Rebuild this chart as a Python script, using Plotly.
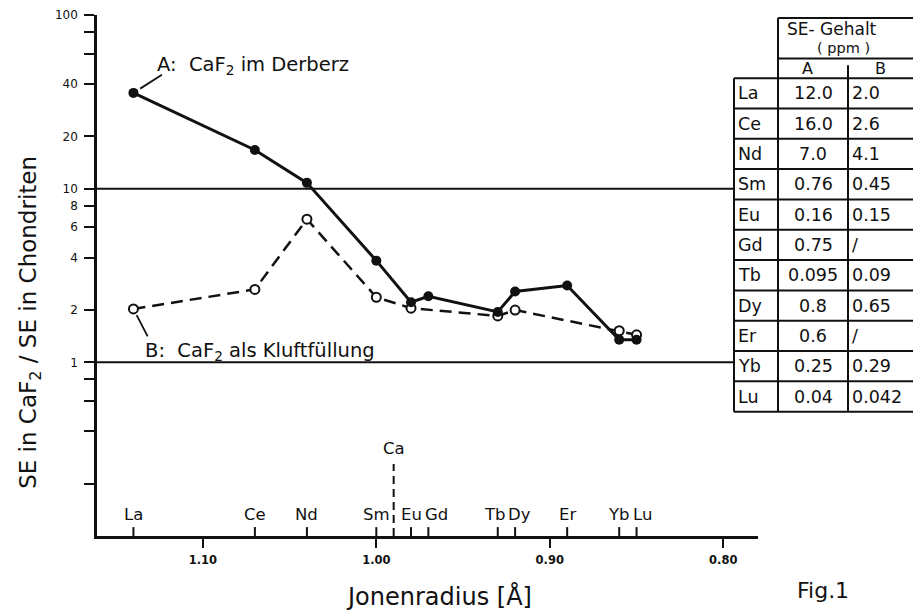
import math
import plotly.graph_objects as go

# ---------------- data ----------------
elements = ["La", "Ce", "Nd", "Sm", "Eu", "Gd", "Tb", "Dy", "Er", "Yb", "Lu"]
ion_radius = [1.14, 1.07, 1.04, 1.00, 0.98, 0.97, 0.93, 0.92, 0.89, 0.86, 0.85]
norm_A = [35.6, 16.7, 10.8, 3.85, 2.22, 2.40, 1.95, 2.56, 2.77, 1.35, 1.35]
norm_B = [2.03, 2.63, 6.67, 2.37, 2.05, None, 1.85, 2.00, None, 1.52, 1.44]
ppm_A = ["12.0", "16.0", "7.0", "0.76", "0.16", "0.75", "0.095", "0.8", "0.6", "0.25", "0.04"]
ppm_B = ["2.0", "2.6", "4.1", "0.45", "0.15", "/", "0.09", "0.65", "/", "0.29", "0.042"]
ca_label = "Ca"
ca_radius = 0.99
x_tickvals = [1.10, 1.00, 0.90, 0.80]
x_ticktext = ["1.10", "1.00", "0.90", "0.80"]
y_tickvals = [0.2, 0.4, 0.6, 0.8, 1, 2, 4, 6, 8, 10, 20, 40, 60, 80, 100]
y_ticktext = ["", "", "", "", "1", "2", "4", "6", "8", "10", "20", "40", "", "", "100"]
ref_levels = [1, 10]

# ---------------- styling ----------------
INK = "#111111"
FONT = "DejaVu Sans"
W, H = 913, 610
ML, MR, MT, MB = 97, 155, 8, 74
PW, PH = W - ML - MR, H - MT - MB


def px(x):
    return (x - ML) / PW


def py(y):
    return (H - MB - y) / PH


label_xshift = {"Gd": 8, "Tb": -3, "Dy": 4, "Lu": 6}

fig = go.Figure()

fig.add_trace(go.Scatter(
    x=ion_radius, y=norm_B, mode="lines+markers", connectgaps=True,
    line=dict(color=INK, width=2.5, dash="12px,7px"),
    marker=dict(symbol="circle", size=9, color="white", line=dict(color=INK, width=2)),
    showlegend=False, hoverinfo="skip"))
fig.add_trace(go.Scatter(
    x=ion_radius, y=norm_A, mode="lines+markers",
    line=dict(color=INK, width=3),
    marker=dict(symbol="circle", size=10, color=INK),
    showlegend=False, hoverinfo="skip"))

shapes = []
# reference lines at 1 and 10 (stop at table)
for lv in ref_levels:
    shapes.append(dict(type="line", xref="paper", yref="y", x0=0, x1=px(734),
                       y0=lv, y1=lv, line=dict(color=INK, width=2)))
# element ticks above axis
for r in ion_radius:
    shapes.append(dict(type="line", xref="x", yref="paper", x0=r, x1=r,
                       y0=0, y1=9 / PH, line=dict(color=INK, width=2)))
# Ca dashed marker
shapes.append(dict(type="line", xref="x", yref="paper", x0=ca_radius, x1=ca_radius,
                   y0=0, y1=py(463), line=dict(color=INK, width=2, dash="8px,5px")))

# ---------------- table ----------------
tl, tc1, tc2, tr = 734, 778, 848, 913
t_top, t_hdr, t_ab = 11, 52, 72
row_h = (410 - t_ab) / len(elements)
row_y = [t_ab + i * row_h for i in range(len(elements) + 1)]
TL = dict(color=INK, width=2)


def hline(x0, x1, y):
    shapes.append(dict(type="line", xref="paper", yref="paper", x0=px(x0), x1=px(x1),
                       y0=py(y), y1=py(y), line=TL))


def vline(x, y0, y1):
    shapes.append(dict(type="line", xref="paper", yref="paper", x0=px(x), x1=px(x),
                       y0=py(y0), y1=py(y1), line=TL))


hline(tc1, tr, t_top)
hline(tc1, tr, t_hdr)
for yy in row_y:
    hline(tl, tr, yy)
vline(tc1, t_top, row_y[-1])
vline(tl, t_ab, row_y[-1])
vline(tc2, t_ab, row_y[-1])
vline(tc2, 59, t_ab)

annotations = []


def txt(x, y, s, size=17.5, xanchor="center", **kw):
    annotations.append(dict(xref="paper", yref="paper", x=px(x), y=py(y), text=s,
                            showarrow=False, xanchor=xanchor, yanchor="middle",
                            borderpad=0,
                            font=dict(family=FONT, size=size, color=INK), **kw))


txt(832, 22, "SE- Gehalt", size=17)
txt(843, 41, "( ppm )", size=14.5)
txt(807, 62, "A", size=16)
txt(880, 62, "B", size=16)
for i, el in enumerate(elements):
    yc = (row_y[i] + row_y[i + 1]) / 2
    txt(737, yc, el, xanchor="left")
    txt(813, yc, ppm_A[i])
    txt(851, yc, ppm_B[i], xanchor="left")

# axis titles and figure label
annotations.append(dict(xref="paper", yref="paper", x=px(30), y=py(320),
                        text="SE in CaF<sub>2</sub> / SE in Chondriten", textangle=-90,
                        showarrow=False, xanchor="center", yanchor="middle",
                        font=dict(family=FONT, size=23, color=INK)))
txt(439, 597, "Jonenradius [Å]", size=24)
txt(823, 591, "Fig.1", size=22)

# element labels above axis
for r, el in zip(ion_radius, elements):
    annotations.append(dict(xref="x", yref="paper", x=r, y=0, text=el, showarrow=False,
                            xanchor="center", yanchor="bottom", yshift=10,
                            xshift=label_xshift.get(el, 0),
                            font=dict(family=FONT, size=16.5, color=INK)))
annotations.append(dict(xref="x", yref="paper", x=ca_radius, y=py(447), text=ca_label,
                        showarrow=False, xanchor="center", yanchor="middle",
                        font=dict(family=FONT, size=16.5, color=INK)))

# series labels with leader lines
la_r = ion_radius[0]
yA = math.log10(norm_A[0])
yB = math.log10(norm_B[0])
annotations.append(dict(xref="x", yref="y", x=la_r, y=yA, text="", showarrow=True,
                        arrowhead=0, arrowwidth=1.8, arrowcolor=INK, ax=30, ay=-19,
                        standoff=8))
annotations.append(dict(xref="x", yref="y", x=la_r, y=yA,
                        text="A:  CaF<sub>2</sub> im Derberz", showarrow=False,
                        xanchor="left", yanchor="middle", xshift=22, yshift=27,
                        font=dict(family=FONT, size=19.5, color=INK)))
annotations.append(dict(xref="x", yref="y", x=la_r, y=yB, text="", showarrow=True,
                        arrowhead=0, arrowwidth=1.8, arrowcolor=INK, ax=15, ay=29,
                        standoff=7))
annotations.append(dict(xref="x", yref="y", x=la_r, y=yB,
                        text="B:  CaF<sub>2</sub> als Kluftfüllung", showarrow=False,
                        xanchor="left", yanchor="middle", xshift=10, yshift=-43,
                        font=dict(family=FONT, size=19.5, color=INK)))

fig.update_layout(
    width=W, height=H, autosize=False,
    margin=dict(l=ML, r=MR, t=MT, b=MB, pad=0),
    paper_bgcolor="white", plot_bgcolor="white",
    font=dict(family=FONT, color=INK),
    shapes=shapes, annotations=annotations, showlegend=False,
    xaxis=dict(range=[1.161, 0.780], showgrid=False, zeroline=False,
               showline=True, linecolor=INK, linewidth=2.5,
               ticks="outside", ticklen=9, tickwidth=2, tickcolor=INK,
               tickvals=x_tickvals, ticktext=x_ticktext, ticklabelstandoff=2,
               tickfont=dict(family=FONT, size=11.5, color=INK, weight="bold")),
    yaxis=dict(type="log", range=[-1, 2], showgrid=False, zeroline=False,
               showline=True, linecolor=INK, linewidth=2.5,
               ticks="outside", ticklen=10, tickwidth=2, tickcolor=INK,
               tickvals=y_tickvals, ticktext=y_ticktext, ticklabelstandoff=4,
               tickfont=dict(family=FONT, size=12, color=INK)),
)

fig.write_html("out.html", config={"displayModeBar": False},
               post_script="document.body.style.margin='0';document.body.style.overflow='hidden';")
